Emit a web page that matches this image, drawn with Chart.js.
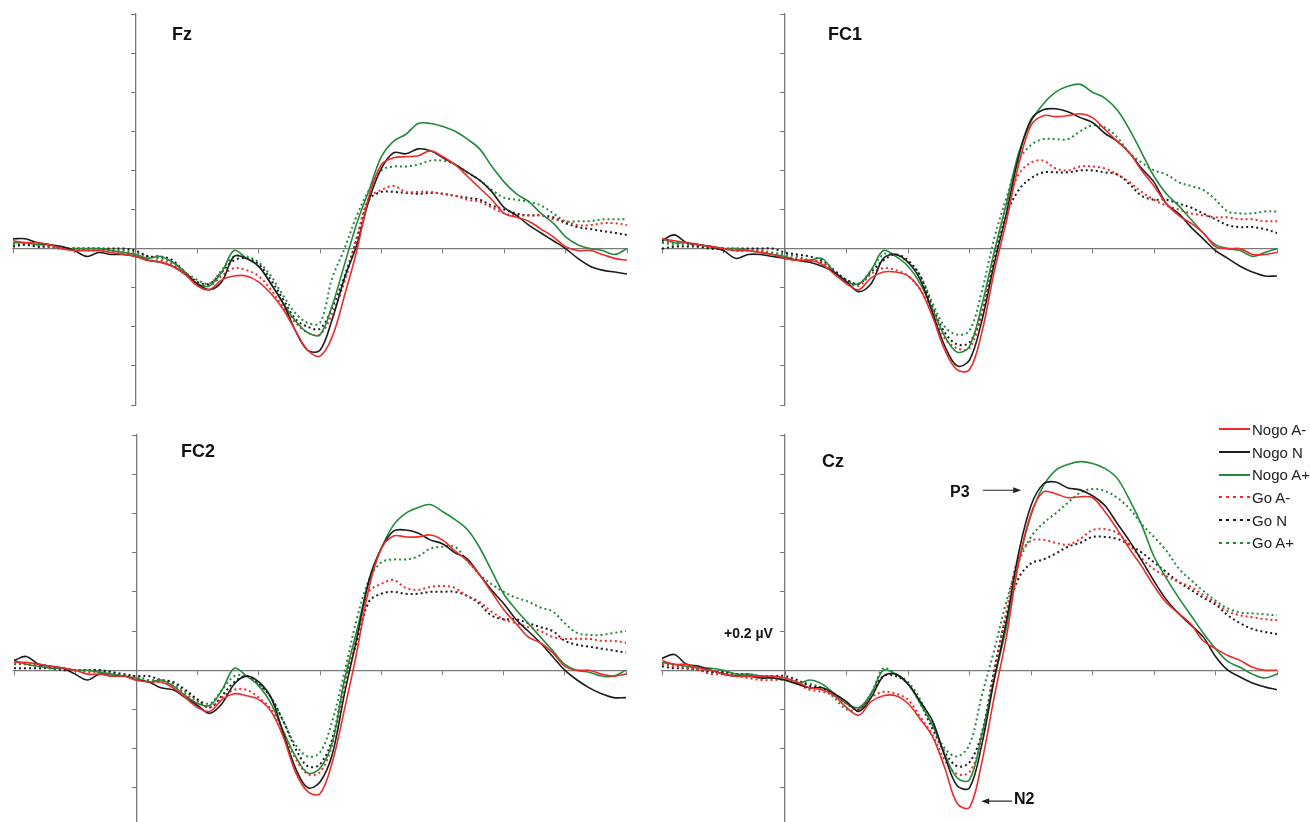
<!DOCTYPE html>
<html>
<head>
<meta charset="utf-8">
<title>Nogo / Go ERP waveforms</title>
<script src="https://cdn.jsdelivr.net/npm/chart.js@4.4.1/dist/chart.umd.min.js"></script>
<style>
  body { margin: 0; background: #fff; font-family: "Liberation Sans", Arial, sans-serif; }
  #page { position: relative; width: 1310px; height: 822px; overflow: hidden; }
  canvas { position: absolute; }
  .lbl { position: absolute; font-weight: bold; line-height: 1; white-space: nowrap; color: #111; }
  .site { font-size: 18px; }
  .peak { font-size: 16px; }
  .unit { font-size: 14px; }
  #legend { position: absolute; left: 1219px; top: 418px; font-size: 15px; color: #222; }
  #legend .row { height: 22.7px; display: flex; align-items: center; white-space: nowrap; }
  #legend svg { margin-right: 2px; }
</style>
</head>
<body>
<div id="page">
  <canvas id="fz"  width="630" height="407" style="left:5px;top:6px"></canvas>
  <canvas id="fc1" width="631" height="407" style="left:654px;top:6px"></canvas>
  <canvas id="fc2" width="628" height="408" style="left:6px;top:427px"></canvas>
  <canvas id="cz"  width="631" height="408" style="left:654px;top:427px"></canvas>

  <div class="lbl site" style="left:172px;top:25px">Fz</div>
  <div class="lbl site" style="left:828px;top:25px">FC1</div>
  <div class="lbl site" style="left:181px;top:442px">FC2</div>
  <div class="lbl site" style="left:822px;top:452px">Cz</div>
  <div class="lbl peak" style="left:950px;top:484px">P3</div>
  <div class="lbl peak" style="left:1014px;top:791px">N2</div>
  <div class="lbl unit" style="left:724px;top:626px">+0.2 µV</div>

  <div id="legend"></div>
</div>
<script>
// time axis (ms), one sample every 20 ms
const times = [-200, -180, -160, -140, -120, -100, -80, -60, -40, -20,
  0, 20, 40, 60, 80, 100, 120, 140, 160, 180,
  200, 220, 240, 260, 280, 300, 320, 340, 360, 380,
  400, 420, 440, 460, 480, 500, 520, 540, 560, 580,
  600, 620, 640, 660, 680, 700, 720, 740, 760, 780, 800];

const seriesNames = ['Nogo A-', 'Nogo N', 'Nogo A+', 'Go A-', 'Go N', 'Go A+'];
const seriesColors = ['#ee2b2b', '#1c1c1c', '#238a3c', '#ee2b2b', '#1c1c1c', '#238a3c'];

// amplitudes in µV
// Fz
const fzNogoAm = [0.04,0.03,0.03,0.02,0.00,-0.01,-0.01,-0.01,-0.02,-0.03,
  -0.04,-0.06,-0.07,-0.09,-0.13,-0.19,-0.21,-0.16,-0.14,-0.14,
  -0.17,-0.23,-0.31,-0.42,-0.52,-0.55,-0.45,-0.24,-0.01,0.27,
  0.43,0.465,0.47,0.475,0.50,0.47,0.43,0.37,0.31,0.25,
  0.18,0.16,0.14,0.10,0.06,0.01,-0.01,-0.01,-0.03,-0.05,-0.06];
const fzNogoN = [0.05,0.05,0.03,0.02,0.01,-0.01,-0.04,-0.02,-0.03,-0.03,
  -0.04,-0.06,-0.07,-0.09,-0.13,-0.18,-0.21,-0.17,-0.04,-0.05,
  -0.09,-0.18,-0.28,-0.42,-0.52,-0.52,-0.36,-0.15,0.02,0.25,
  0.41,0.49,0.485,0.51,0.50,0.465,0.43,0.39,0.35,0.29,
  0.21,0.17,0.12,0.08,0.04,0.00,-0.05,-0.09,-0.11,-0.12,-0.13];
const fzNogoAp = [0.03,0.03,0.02,0.02,0.00,0.00,0.00,0.00,-0.01,-0.02,
  -0.03,-0.05,-0.04,-0.07,-0.12,-0.18,-0.19,-0.12,-0.01,-0.05,
  -0.09,-0.18,-0.28,-0.37,-0.43,-0.44,-0.29,-0.08,0.13,0.30,
  0.47,0.55,0.585,0.64,0.64,0.625,0.60,0.56,0.51,0.42,
  0.34,0.28,0.24,0.18,0.13,0.06,0.02,0.00,-0.01,-0.03,0.00];
const fzGoAm = [0.03,0.03,0.02,0.01,0.00,0.00,-0.01,-0.01,-0.01,-0.02,
  -0.03,-0.06,-0.06,-0.08,-0.12,-0.18,-0.19,-0.14,-0.10,-0.11,
  -0.14,-0.21,-0.30,-0.38,-0.43,-0.44,-0.33,-0.17,0.06,0.26,
  0.30,0.32,0.29,0.29,0.29,0.28,0.27,0.25,0.24,0.21,
  0.18,0.17,0.17,0.17,0.15,0.14,0.12,0.12,0.13,0.13,0.12];
const fzGoN = [0.01,0.02,0.01,0.01,0.00,0.00,0.00,0.00,0.00,0.00,
  -0.01,-0.04,-0.04,-0.06,-0.12,-0.17,-0.18,-0.12,-0.06,-0.05,
  -0.08,-0.16,-0.26,-0.36,-0.40,-0.41,-0.30,-0.14,0.05,0.25,
  0.29,0.29,0.285,0.28,0.285,0.28,0.27,0.26,0.25,0.22,
  0.20,0.18,0.17,0.17,0.16,0.13,0.11,0.10,0.09,0.08,0.07];
const fzGoAp = [0.02,0.02,0.01,0.01,0.00,0.00,0.00,0.00,-0.01,-0.01,
  -0.02,-0.04,-0.05,-0.07,-0.12,-0.16,-0.18,-0.11,-0.04,-0.04,
  -0.07,-0.14,-0.24,-0.33,-0.38,-0.38,-0.15,0.00,0.17,0.30,
  0.40,0.42,0.42,0.43,0.45,0.45,0.43,0.39,0.35,0.30,
  0.26,0.25,0.24,0.22,0.18,0.14,0.14,0.14,0.15,0.15,0.15];

// FC1
const fc1NogoAm = [0.05,0.04,0.03,0.02,0.01,0.00,-0.01,-0.01,-0.02,-0.03,
  -0.05,-0.06,-0.06,-0.08,-0.13,-0.18,-0.21,-0.15,-0.12,-0.12,
  -0.14,-0.21,-0.35,-0.52,-0.62,-0.62,-0.43,-0.12,0.14,0.43,
  0.63,0.68,0.675,0.68,0.69,0.67,0.61,0.55,0.49,0.40,
  0.32,0.23,0.17,0.13,0.08,0.01,0.00,0.00,-0.03,-0.03,-0.02];
const fc1NogoN = [0.04,0.07,0.03,0.02,0.01,-0.01,-0.05,-0.03,-0.03,-0.04,
  -0.05,-0.06,-0.07,-0.09,-0.12,-0.17,-0.22,-0.18,-0.05,-0.03,
  -0.07,-0.16,-0.33,-0.50,-0.60,-0.57,-0.37,-0.08,0.18,0.47,
  0.66,0.71,0.715,0.70,0.67,0.645,0.59,0.55,0.49,0.41,
  0.34,0.23,0.18,0.11,0.05,-0.01,-0.05,-0.09,-0.12,-0.14,-0.14];
const fc1NogoAp = [0.05,0.03,0.03,0.02,0.01,0.00,0.00,-0.01,-0.02,-0.03,
  -0.04,-0.06,-0.06,-0.05,-0.12,-0.17,-0.18,-0.11,-0.01,-0.04,
  -0.09,-0.18,-0.31,-0.45,-0.53,-0.50,-0.29,-0.02,0.23,0.49,
  0.65,0.74,0.80,0.83,0.84,0.80,0.77,0.71,0.61,0.49,
  0.37,0.28,0.22,0.15,0.08,0.02,0.00,-0.01,-0.04,-0.02,0.00];
const fc1GoAm = [0.04,0.03,0.03,0.02,0.01,0.00,-0.01,-0.01,-0.01,-0.03,
  -0.04,-0.05,-0.06,-0.07,-0.12,-0.17,-0.19,-0.13,-0.10,-0.11,
  -0.14,-0.21,-0.33,-0.46,-0.51,-0.51,-0.33,-0.03,0.22,0.38,
  0.44,0.45,0.41,0.40,0.42,0.42,0.41,0.38,0.34,0.29,
  0.25,0.22,0.20,0.18,0.17,0.16,0.16,0.15,0.15,0.14,0.14];
const fc1GoN = [0.00,0.01,0.01,0.01,0.00,0.00,0.00,0.00,0.00,0.00,
  -0.02,-0.03,-0.04,-0.06,-0.11,-0.16,-0.18,-0.12,-0.06,-0.03,
  -0.06,-0.14,-0.30,-0.43,-0.49,-0.48,-0.33,-0.06,0.17,0.30,
  0.36,0.39,0.39,0.39,0.40,0.40,0.39,0.38,0.33,0.27,
  0.25,0.25,0.23,0.21,0.18,0.15,0.12,0.11,0.11,0.10,0.08];
const fc1GoAp = [0.03,0.02,0.02,0.01,0.00,0.00,-0.01,-0.01,-0.01,-0.02,
  -0.03,-0.04,-0.06,-0.07,-0.12,-0.16,-0.18,-0.11,-0.03,-0.03,
  -0.07,-0.14,-0.28,-0.40,-0.44,-0.42,-0.22,0.05,0.26,0.45,
  0.53,0.56,0.56,0.56,0.60,0.63,0.62,0.57,0.49,0.44,
  0.40,0.38,0.34,0.32,0.30,0.25,0.19,0.18,0.18,0.19,0.19];

// FC2
const fc2NogoAm = [0.04,0.04,0.03,0.02,0.01,0.00,-0.02,-0.02,-0.03,-0.03,
  -0.05,-0.06,-0.06,-0.09,-0.14,-0.19,-0.21,-0.15,-0.12,-0.13,
  -0.15,-0.21,-0.34,-0.52,-0.62,-0.63,-0.47,-0.20,0.09,0.42,
  0.62,0.685,0.68,0.68,0.69,0.665,0.61,0.56,0.49,0.40,
  0.31,0.24,0.17,0.14,0.09,0.02,0.00,0.00,-0.02,-0.03,-0.02];
const fc2NogoN = [0.05,0.07,0.03,0.02,0.01,-0.02,-0.05,-0.02,-0.03,-0.03,
  -0.05,-0.06,-0.09,-0.10,-0.14,-0.18,-0.22,-0.17,-0.07,-0.03,
  -0.06,-0.14,-0.32,-0.50,-0.60,-0.57,-0.43,-0.12,0.16,0.46,
  0.62,0.71,0.715,0.70,0.665,0.645,0.60,0.57,0.49,0.41,
  0.34,0.26,0.20,0.14,0.07,0.00,-0.05,-0.09,-0.12,-0.14,-0.14];
const fc2NogoAp = [0.05,0.03,0.02,0.01,0.01,0.00,0.00,-0.01,-0.02,-0.03,
  -0.04,-0.06,-0.05,-0.08,-0.13,-0.17,-0.18,-0.10,0.01,-0.03,
  -0.08,-0.17,-0.31,-0.44,-0.525,-0.50,-0.37,-0.05,0.20,0.45,
  0.62,0.74,0.80,0.83,0.845,0.81,0.77,0.72,0.63,0.51,
  0.39,0.31,0.24,0.17,0.10,0.03,0.00,-0.01,-0.03,-0.03,0.00];
const fc2GoAm = [0.04,0.03,0.03,0.02,0.01,0.00,-0.01,-0.01,-0.02,-0.03,
  -0.04,-0.06,-0.06,-0.08,-0.12,-0.16,-0.19,-0.14,-0.10,-0.10,
  -0.14,-0.20,-0.32,-0.45,-0.53,-0.52,-0.38,-0.08,0.17,0.40,
  0.44,0.46,0.42,0.41,0.425,0.43,0.42,0.38,0.35,0.30,
  0.26,0.24,0.22,0.20,0.17,0.16,0.16,0.16,0.15,0.15,0.14];
const fc2GoN = [0.01,0.01,0.01,0.01,0.00,0.00,0.00,0.00,-0.01,-0.02,
  -0.03,-0.03,-0.05,-0.06,-0.10,-0.15,-0.19,-0.13,-0.06,-0.03,
  -0.07,-0.14,-0.26,-0.40,-0.49,-0.48,-0.35,-0.06,0.14,0.35,
  0.39,0.40,0.39,0.39,0.40,0.40,0.40,0.38,0.34,0.28,
  0.26,0.26,0.24,0.22,0.20,0.15,0.13,0.12,0.11,0.10,0.09];
const fc2GoAp = [0.03,0.03,0.02,0.01,0.01,0.00,0.00,0.00,-0.01,-0.03,
  -0.03,-0.05,-0.05,-0.07,-0.11,-0.15,-0.17,-0.10,-0.03,-0.03,
  -0.07,-0.14,-0.26,-0.38,-0.44,-0.42,-0.26,-0.01,0.26,0.46,
  0.55,0.565,0.565,0.58,0.62,0.63,0.63,0.56,0.49,0.44,
  0.40,0.37,0.35,0.32,0.30,0.24,0.19,0.18,0.18,0.19,0.20];

// Cz
const czNogoAm = [0.05,0.03,0.03,0.01,0.00,-0.02,-0.03,-0.03,-0.03,-0.03,
  -0.04,-0.06,-0.09,-0.10,-0.13,-0.19,-0.23,-0.16,-0.13,-0.13,
  -0.17,-0.25,-0.34,-0.50,-0.68,-0.70,-0.47,-0.14,0.17,0.55,
  0.80,0.91,0.90,0.88,0.885,0.88,0.81,0.72,0.62,0.53,
  0.43,0.345,0.29,0.235,0.15,0.11,0.075,0.05,0.015,0.00,0.00];
const czNogoN = [0.06,0.08,0.03,0.02,0.00,-0.02,-0.03,-0.03,-0.04,-0.04,
  -0.05,-0.07,-0.09,-0.09,-0.12,-0.16,-0.21,-0.14,-0.03,-0.02,
  -0.07,-0.16,-0.26,-0.44,-0.59,-0.60,-0.38,-0.05,0.25,0.60,
  0.84,0.95,0.96,0.93,0.92,0.89,0.84,0.75,0.66,0.56,
  0.455,0.36,0.29,0.23,0.17,0.07,0.00,-0.035,-0.065,-0.085,-0.10];
const czNogoAp = [0.04,0.03,0.02,0.01,0.01,0.00,-0.02,-0.02,-0.03,-0.04,
  -0.05,-0.07,-0.05,-0.07,-0.12,-0.17,-0.19,-0.12,0.00,-0.02,
  -0.07,-0.17,-0.28,-0.43,-0.55,-0.56,-0.33,-0.05,0.22,0.55,
  0.79,0.94,1.02,1.05,1.064,1.055,1.03,0.98,0.87,0.74,
  0.58,0.47,0.37,0.28,0.19,0.11,0.045,0.015,-0.02,-0.04,-0.02];
const czGoAm = [0.03,0.02,0.01,0.00,-0.02,-0.02,-0.03,-0.04,-0.05,-0.05,
  -0.05,-0.07,-0.10,-0.11,-0.13,-0.17,-0.20,-0.14,-0.11,-0.12,
  -0.15,-0.24,-0.33,-0.46,-0.53,-0.52,-0.35,-0.02,0.30,0.58,
  0.66,0.665,0.65,0.64,0.67,0.715,0.72,0.70,0.64,0.57,
  0.515,0.48,0.45,0.425,0.385,0.345,0.30,0.28,0.27,0.26,0.255];
const czGoN = [0.02,0.01,0.01,0.00,-0.01,-0.01,-0.02,-0.02,-0.03,-0.03,
  -0.03,-0.05,-0.08,-0.09,-0.12,-0.17,-0.20,-0.12,-0.03,-0.03,
  -0.07,-0.17,-0.30,-0.42,-0.49,-0.47,-0.32,0.00,0.28,0.47,
  0.545,0.565,0.595,0.63,0.65,0.68,0.68,0.67,0.64,0.60,
  0.55,0.50,0.45,0.41,0.37,0.335,0.28,0.24,0.21,0.195,0.185];
const czGoAp = [0.03,0.03,0.01,0.00,-0.01,-0.01,-0.02,-0.02,-0.03,-0.03,
  -0.04,-0.06,-0.07,-0.09,-0.14,-0.20,-0.20,-0.12,0.01,-0.02,
  -0.06,-0.15,-0.28,-0.40,-0.44,-0.38,-0.13,0.10,0.35,0.55,
  0.68,0.75,0.80,0.855,0.905,0.925,0.915,0.88,0.825,0.745,
  0.68,0.61,0.52,0.46,0.405,0.355,0.315,0.295,0.29,0.285,0.28];

const axisColor = '#7a7a7a';

// arrows for the P3 / N2 labels on Cz, given in (ms, µV)
const arrowPlugin = {
  id: 'arrows',
  afterDatasetsDraw(chart, args, opts) {
    if (!opts.items) return;
    const ctx = chart.ctx;
    const xs = chart.scales.x, ys = chart.scales.y;
    ctx.save();
    ctx.strokeStyle = '#222';
    ctx.fillStyle = '#222';
    ctx.lineWidth = 1.2;
    opts.items.forEach(a => {
      const x1 = xs.getPixelForValue(a.from[0]), y1 = ys.getPixelForValue(a.from[1]);
      const x2 = xs.getPixelForValue(a.to[0]), y2 = ys.getPixelForValue(a.to[1]);
      const dir = Math.sign(x2 - x1);
      ctx.beginPath();
      ctx.moveTo(x1, y1);
      ctx.lineTo(x2 - dir * 6, y2);
      ctx.stroke();
      ctx.beginPath();
      ctx.moveTo(x2, y2);
      ctx.lineTo(x2 - dir * 8, y2 - 3);
      ctx.lineTo(x2 - dir * 8, y2 + 3);
      ctx.closePath();
      ctx.fill();
    });
    ctx.restore();
  }
};

function makeChart(id, series, arrows) {
  const datasets = series.map((vals, i) => ({
    label: seriesNames[i],
    data: vals.map((v, k) => ({ x: times[k], y: v })),
    borderColor: seriesColors[i],
    borderWidth: i < 3 ? 1.6 : 2,
    borderDash: i < 3 ? [] : [2, 3],
    pointRadius: 0,
    tension: 0.35,
    fill: false
  }));
  return new Chart(document.getElementById(id), {
    type: 'line',
    data: { datasets: datasets },
    plugins: [arrowPlugin],
    options: {
      responsive: false,
      animation: false,
      layout: { padding: 8 },
      plugins: {
        legend: { display: false },
        tooltip: { enabled: false },
        arrows: { items: arrows }
      },
      scales: {
        x: {
          type: 'linear', min: -200, max: 800,
          position: { y: 0 },
          ticks: { display: false, stepSize: 100 },
          grid: { drawOnChartArea: false, tickLength: 4, color: axisColor, lineWidth: 1 },
          border: { color: axisColor, width: 1.3 }
        },
        y: {
          type: 'linear', min: -0.8, max: 1.2,
          position: { x: 0 },
          ticks: { display: false, stepSize: 0.2 },
          grid: { drawOnChartArea: false, tickLength: 4, color: axisColor, lineWidth: 1 },
          border: { color: axisColor, width: 1.3 }
        }
      }
    }
  });
}

makeChart('fz',  [fzNogoAm, fzNogoN, fzNogoAp, fzGoAm, fzGoN, fzGoAp]);
makeChart('fc1', [fc1NogoAm, fc1NogoN, fc1NogoAp, fc1GoAm, fc1GoN, fc1GoAp]);
makeChart('fc2', [fc2NogoAm, fc2NogoN, fc2NogoAp, fc2GoAm, fc2GoN, fc2GoAp]);
makeChart('cz',  [czNogoAm, czNogoN, czNogoAp, czGoAm, czGoN, czGoAp], [
  { from: [322, 0.918], to: [384, 0.918] },
  { from: [369, -0.668], to: [319, -0.668] }
]);

// legend
const legend = document.getElementById('legend');
seriesNames.forEach((name, i) => {
  const row = document.createElement('div');
  row.className = 'row';
  const dash = i < 3 ? '' : ' stroke-dasharray="3,4"';
  row.innerHTML = '<svg width="31" height="4"><line x1="0" y1="2" x2="31" y2="2" stroke="' +
    seriesColors[i] + '" stroke-width="2"' + dash + '/></svg><span>' + name + '</span>';
  legend.appendChild(row);
});
</script>
</body>
</html>
